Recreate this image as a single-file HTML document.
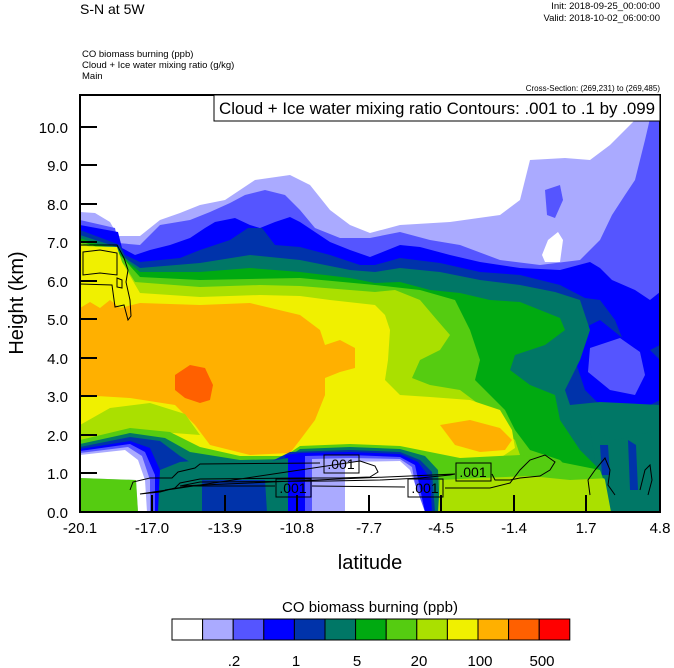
<!DOCTYPE html>
<html><head><meta charset="utf-8"><style>
html,body{margin:0;padding:0;background:#fff;}
svg{display:block;font-family:"Liberation Sans",sans-serif;}
</style></head><body>
<svg width="674" height="668" viewBox="0 0 674 668" xmlns="http://www.w3.org/2000/svg">
<defs><clipPath id="c"><rect x="80" y="95" width="580" height="417"/></clipPath></defs>
<text x="80" y="14" font-size="14">S-N at 5W</text>
<text x="660" y="9" font-size="9.5" text-anchor="end">Init: 2018-09-25_00:00:00</text>
<text x="660" y="21" font-size="9.5" text-anchor="end">Valid: 2018-10-02_06:00:00</text>
<text x="82" y="57" font-size="9.5">CO biomass burning   (ppb)</text>
<text x="82" y="68" font-size="9.5">Cloud + Ice water mixing ratio   (g/kg)</text>
<text x="82" y="79" font-size="9.5">Main</text>
<text x="660" y="91" font-size="8" text-anchor="end">Cross-Section: (269,231) to (269,485)</text>
<g clip-path="url(#c)">
<rect x="80" y="95" width="580" height="417" fill="#fff"/>
<polygon fill="#aaaaff" points="80,212 95,213 110,222 118,236 140,236 160,220 180,213 200,205 225,200 240,190 255,180 290,175 310,185 330,210 350,225 370,233 400,225 450,222 500,215 520,200 530,160 565,158 590,160 610,145 635,120 650,95 660,95 660,512 80,512"/>
<polygon fill="#5555ff" points="80,220 115,228 118,243 140,245 150,235 160,225 190,220 210,212 230,203 245,195 265,190 285,195 300,210 315,228 340,238 370,238 400,232 430,240 460,245 500,260 540,265 580,260 600,240 612,215 625,195 635,180 645,140 652,110 655,95 660,95 660,512 80,512"/>
<polygon fill="#5555ff" points="545,190 560,185 563,200 555,218 547,215"/>
<polygon fill="#fff" points="542,255 548,240 558,232 563,240 560,262 545,262"/>
<polygon fill="#0000ff" points="80,225 118,232 122,248 135,255 150,250 170,245 190,238 205,228 215,222 235,218 250,225 260,228 275,222 290,217 300,222 315,232 330,242 350,250 370,257 400,245 420,247 450,255 480,262 520,268 560,270 590,262 600,268 612,280 635,290 650,300 660,292 660,512 80,512"/>
<polygon fill="#0033aa" points="80,230 120,245 125,255 140,262 180,258 200,250 230,240 248,228 262,228 275,245 300,247 330,255 360,265 375,265 400,258 440,263 480,272 520,275 560,285 585,298 600,300 615,320 625,345 640,355 660,345 660,512 80,512"/>
<polygon fill="#0000ff" points="580,330 600,320 625,340 650,350 660,360 660,400 640,410 600,405 585,390 575,360"/>
<polygon fill="#5555ff" points="590,348 620,338 640,352 645,375 635,395 610,390 588,372"/>
<polygon fill="#007766" points="80,235 120,248 125,258 140,268 200,263 250,255 300,260 350,270 375,272 400,268 440,272 480,280 520,285 555,292 580,300 590,330 580,360 565,390 570,405 600,402 660,405 660,512 80,512"/>
<polygon fill="#00aa11" points="80,238 120,252 128,262 140,272 200,272 250,268 300,272 350,278 375,283 400,282 430,290 460,293 490,300 520,302 540,310 560,318 565,330 545,345 515,355 510,370 530,385 555,395 560,420 580,450 600,470 610,512 80,512"/>
<polygon fill="#55cc11" points="80,241 120,255 130,266 140,277 200,280 300,278 375,285 420,290 455,300 470,330 480,360 475,380 490,395 505,410 515,430 530,450 560,460 580,480 590,512 80,512"/>
<polygon fill="#aae000" points="80,243 118,258 125,266 135,282 200,287 260,285 300,286 350,290 375,292 395,290 420,300 437,320 450,335 440,350 420,360 412,378 430,385 460,390 480,405 495,425 515,440 520,455 500,465 440,470 430,512 80,512"/>
<polygon fill="#f0f000" points="80,246 117,247 122,262 130,276 140,293 200,297 260,295 300,296 330,300 375,305 385,315 390,330 388,360 385,380 400,395 430,397 470,400 500,410 512,430 515,448 500,458 440,462 430,470 380,470 300,462 200,455 170,445 140,428 110,420 80,425"/>
<polygon fill="#ffb000" points="80,308 90,302 100,308 110,300 120,308 140,303 200,305 250,303 300,315 320,330 325,345 340,340 355,348 355,368 340,372 325,378 325,395 315,420 300,440 290,453 250,455 210,445 195,425 175,405 130,398 80,395"/>
<polygon fill="#ffb000" points="440,425 470,420 500,428 512,440 505,450 480,452 455,445"/>
<polygon fill="#ff6000" points="175,375 190,365 205,368 213,385 210,400 200,403 185,398 175,390"/>
<polygon fill="#aae000" points="80,425 110,408 150,403 185,414 200,435 160,432"/>
<polygon fill="#55cc11" points="80,440 130,428 170,432 200,447 240,456 285,456 300,446 350,444 400,446 430,452 460,458 520,455 560,462 600,470 615,512 80,512"/>
<polygon fill="#007766" points="80,444 130,433 165,438 190,452 240,460 285,459 300,449 350,447 400,449 425,456 438,470 440,512 80,512"/>
<polygon fill="#0033aa" points="80,447 130,437 160,441 180,456 200,468 210,478 265,478 270,462 290,452 350,450 400,452 420,460 432,472 435,512 80,512"/>
<polygon fill="#0000ff" points="80,449 130,441 150,448 160,470 160,512 80,512"/>
<polygon fill="#0000ff" points="285,512 285,455 300,453 350,452 400,454 418,462 430,478 432,512"/>
<polygon fill="#5555ff" points="80,451 130,444 145,452 155,475 155,512 80,512"/>
<polygon fill="#5555ff" points="305,512 305,456 350,455 400,457 415,465 425,512"/>
<polygon fill="#aaaaff" points="80,453 128,447 142,456 150,480 150,512 80,512"/>
<polygon fill="#aaaaff" points="312,512 312,459 350,458 400,459 412,467 420,512"/>
<polygon fill="#fff" points="80,455 125,450 138,460 145,480 147,512 138,512 136,480 80,478"/>
<polygon fill="#fff" points="345,512 345,462 400,461 410,470 425,512"/>
<polygon fill="#55cc11" points="80,478 136,480 138,512 80,512"/>
<polygon fill="#007766" points="158,512 160,470 180,462 205,460 265,462 288,458 288,512"/>
<polygon fill="#0033aa" points="202,512 202,480 265,480 267,512"/>
<polygon fill="#aae000" points="438,512 440,480 480,478 530,476 570,480 611,478 611,512"/>
<polygon fill="#007766" points="590,430 615,440 660,430 660,512 611,512 605,480 595,460"/>
<polygon fill="#0033aa" points="600,445 608,445 610,475 602,475"/>
<polygon fill="#0033aa" points="628,440 636,445 638,490 630,490"/>
<g fill="none" stroke="#000" stroke-width="1">
<path d="M80,245 L117,245 L124,258 L128,270 L126,282 L130,300 L131,316 L128,320 L124,305 L115,307 L112,285 L80,284"/>
<path d="M83,252 L100,250 L117,253 L117,275 L100,273 L83,275 Z"/>
<path d="M117,278 L122,280 L122,288 L117,287 Z"/>
<path d="M130,490 L133,482 L150,478 L172,478 L178,472 L195,468 L200,464 L320,463 M360,461 L375,466 L378,472 L370,477 L340,478 L300,478 L200,479 L180,483 L175,488 L160,492 L140,494 Z"/>
<path d="M165,490 L190,486 L275,486 M312,486 L405,487 M445,488 L490,488 L510,483 L520,470 L530,460 L545,455 L555,462 L550,470 L540,476 L520,478 L510,480 L495,480 L492,474 M455,474 L450,475 L420,478 L380,480 L330,481 L200,482 L180,486 Z"/>
<path d="M590,495 L588,480 L595,470 L605,458 L610,470 L608,485 L615,495 M640,490 L645,470 L650,465 L652,480 L648,495"/>
</g>
<g font-size="14" text-anchor="middle">
<rect x="324" y="455" width="35" height="18" fill="none" stroke="#000"/><text x="341" y="469">.001</text>
<rect x="276" y="479" width="35" height="18" fill="none" stroke="#000"/><text x="293" y="493">.001</text>
<rect x="408" y="479" width="35" height="18" fill="none" stroke="#000"/><text x="425" y="493">.001</text>
<rect x="456" y="463" width="35" height="18" fill="none" stroke="#000"/><text x="473" y="477">.001</text>
</g>
</g>
<rect x="80" y="95" width="580" height="417" fill="none" stroke="#000" stroke-width="2"/>
<rect x="214" y="95" width="446" height="26" fill="#fff" stroke="#000" stroke-width="1"/>
<text x="219" y="114" font-size="16.5" textLength="436" lengthAdjust="spacingAndGlyphs">Cloud + Ice water mixing ratio Contours: .001 to .1 by .099</text>
<g stroke="#000" stroke-width="2">
<line x1="80" y1="127" x2="97" y2="127"/><line x1="80" y1="165" x2="97" y2="165"/><line x1="80" y1="204" x2="97" y2="204"/><line x1="80" y1="242" x2="97" y2="242"/><line x1="80" y1="281" x2="97" y2="281"/><line x1="80" y1="319" x2="97" y2="319"/><line x1="80" y1="358" x2="97" y2="358"/><line x1="80" y1="396" x2="97" y2="396"/><line x1="80" y1="435" x2="97" y2="435"/><line x1="80" y1="473" x2="97" y2="473"/>
<line x1="152" y1="512" x2="152" y2="495"/><line x1="225" y1="512" x2="225" y2="495"/><line x1="297" y1="512" x2="297" y2="495"/><line x1="369" y1="512" x2="369" y2="495"/><line x1="441" y1="512" x2="441" y2="495"/><line x1="514" y1="512" x2="514" y2="495"/><line x1="586" y1="512" x2="586" y2="495"/>
</g>
<g font-size="15" text-anchor="end">
<text x="68" y="133">10.0</text><text x="68" y="171">9.0</text><text x="68" y="210">8.0</text><text x="68" y="248">7.0</text><text x="68" y="287">6.0</text><text x="68" y="325">5.0</text><text x="68" y="364">4.0</text><text x="68" y="402">3.0</text><text x="68" y="441">2.0</text><text x="68" y="479">1.0</text><text x="68" y="518">0.0</text>
</g>
<g font-size="15" text-anchor="middle">
<text x="80" y="533">-20.1</text><text x="152" y="533">-17.0</text><text x="225" y="533">-13.9</text><text x="297" y="533">-10.8</text><text x="369" y="533">-7.7</text><text x="441" y="533">-4.5</text><text x="514" y="533">-1.4</text><text x="586" y="533">1.7</text><text x="660" y="533">4.8</text>
</g>
<text x="370" y="569" font-size="20" text-anchor="middle">latitude</text>
<text transform="translate(23,303) rotate(-90)" font-size="20" text-anchor="middle">Height (km)</text>
<text x="370" y="612" font-size="15" text-anchor="middle">CO biomass burning  (ppb)</text>
<g stroke="#000" stroke-width="1">
<rect x="172" y="619" width="30.6" height="21" fill="#fff"/>
<rect x="202.6" y="619" width="30.6" height="21" fill="#aaaaff"/>
<rect x="233.2" y="619" width="30.6" height="21" fill="#5555ff"/>
<rect x="263.8" y="619" width="30.6" height="21" fill="#0000ff"/>
<rect x="294.4" y="619" width="30.6" height="21" fill="#0033aa"/>
<rect x="325" y="619" width="30.6" height="21" fill="#007766"/>
<rect x="355.6" y="619" width="30.6" height="21" fill="#00aa11"/>
<rect x="386.2" y="619" width="30.6" height="21" fill="#55cc11"/>
<rect x="416.8" y="619" width="30.6" height="21" fill="#aae000"/>
<rect x="447.4" y="619" width="30.6" height="21" fill="#f0f000"/>
<rect x="478" y="619" width="30.6" height="21" fill="#ffb000"/>
<rect x="508.6" y="619" width="30.6" height="21" fill="#ff6000"/>
<rect x="539.2" y="619" width="30.6" height="21" fill="#ff0000"/>
</g>
<g font-size="15" text-anchor="middle">
<text x="234" y="666">.2</text><text x="296" y="666">1</text><text x="357" y="666">5</text><text x="419" y="666">20</text><text x="480" y="666">100</text><text x="542" y="666">500</text>
</g>
</svg>
</body></html>
